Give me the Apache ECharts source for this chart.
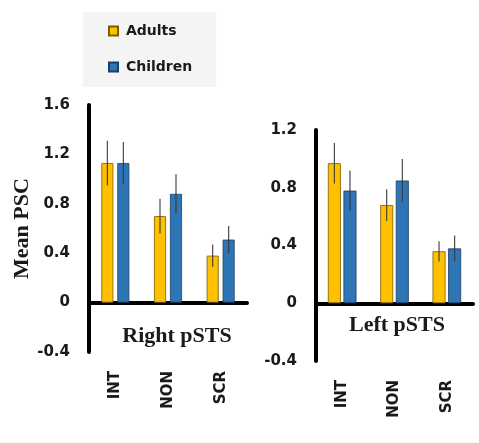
<!DOCTYPE html>
<html>
<head>
<meta charset="utf-8">
<script src="https://cdn.jsdelivr.net/npm/echarts@6/dist/echarts.min.js"></script>
<style>html,body{margin:0;padding:0;background:#fff}#c{width:479px;height:443px}</style>
</head>
<body>
<div id="c"></div>
<script>
// ---- data ----
const categories = ['INT', 'NON', 'SCR'];
const rightAdults = [1.13, 0.70, 0.38];
const rightAdultsErr = [0.18, 0.14, 0.09];
const rightChildren = [1.13, 0.88, 0.51];
const rightChildrenErr = [0.17, 0.16, 0.11];
const leftAdults = [0.97, 0.68, 0.36];
const leftAdultsErr = [0.14, 0.11, 0.07];
const leftChildren = [0.78, 0.85, 0.38];
const leftChildrenErr = [0.14, 0.15, 0.09];
const rightTicks = [-0.4, 0, 0.4, 0.8, 1.2, 1.6];
const leftTicks = [-0.4, 0, 0.4, 0.8, 1.2];

const chart = echarts.init(document.getElementById('c'));
const yellow = '#FFC000', blue = '#2E75B6';
const tickFont = {fontFamily: 'DejaVu Sans', fontWeight: 'bold', fontSize: 15, color: '#1a1a1a'};
const catFont = {fontFamily: 'DejaVu Sans', fontWeight: 'bold', fontSize: 15, color: '#1a1a1a'};

function errData(vals, errs) { return vals.map((v, i) => [i, v - errs[i], v + errs[i]]); }
function errRender(offset, width) {
  return function (params, api) {
    const x = api.value(0);
    const p1 = api.coord([x, api.value(2)]);
    const p2 = api.coord([x, api.value(1)]);
    return {type: 'line', shape: {x1: p1[0] + offset, y1: p1[1], x2: p2[0] + offset, y2: p2[1]},
      style: {stroke: '#3a3a3a', lineWidth: width}};
  };
}
function fmt(v) { return Math.abs(v) < 1e-9 ? '0' : v.toFixed(1); }

function yAx(gi, ticks) {
  return {type: 'value', gridIndex: gi, min: ticks[0], max: ticks[ticks.length - 1], interval: 0.4,
    axisLine: {show: true, lineStyle: {color: '#000', width: 4}}, axisTick: {show: false},
    splitLine: {show: false}, axisLabel: Object.assign({margin: 19, formatter: fmt}, tickFont)};
}
function xLabelAx(gi) {
  return {type: 'category', gridIndex: gi, data: categories, position: 'bottom',
    axisLine: {show: false, onZero: false}, axisTick: {show: false},
    axisLabel: Object.assign({rotate: 90, margin: 19}, catFont)};
}
function xZeroAx(gi) {
  return {type: 'category', gridIndex: gi, data: categories, position: 'bottom',
    axisLine: {show: true, onZero: true, lineStyle: {color: '#000', width: 4}},
    axisTick: {show: false}, axisLabel: {show: false}};
}

chart.setOption({
  backgroundColor: '#fff',
  animation: false,
  legend: {
    orient: 'vertical', left: 83, top: 12, icon: 'rect',
    padding: [12, 24, 13, 25], itemGap: 22, itemWidth: 9, itemHeight: 9,
    backgroundColor: '#f4f4f4',
    data: ['Adults', 'Children'],
    textStyle: {fontFamily: 'DejaVu Sans', fontWeight: 'bold', fontSize: 14, color: '#1a1a1a', padding: [0, 0, 0, 3]}
  },
  grid: [
    {left: 89, top: 105, width: 158, height: 247},
    {left: 316, top: 130, width: 157, height: 231}
  ],
  xAxis: [xLabelAx(0), xLabelAx(1), xZeroAx(0), xZeroAx(1)],
  yAxis: [
    Object.assign(yAx(0, rightTicks), {
      name: 'Mean PSC', nameLocation: 'middle', nameRotate: 90, nameGap: 56,
      nameTextStyle: {fontFamily: 'Liberation Serif', fontWeight: 'bold', fontSize: 22, color: '#1a1a1a'}
    }),
    yAx(1, leftTicks)
  ],
  graphic: [
    {type: 'text', x: 177, y: 336, style: {text: 'Right pSTS', fill: '#1a1a1a', font: 'bold 22px "Liberation Serif"', textAlign: 'center', textVerticalAlign: 'middle'}},
    {type: 'text', x: 397, y: 325, style: {text: 'Left pSTS', fill: '#1a1a1a', font: 'bold 22px "Liberation Serif"', textAlign: 'center', textVerticalAlign: 'middle'}}
  ],
  series: [
    {name: 'Adults', type: 'bar', xAxisIndex: 0, yAxisIndex: 0, data: rightAdults, barWidth: 12, barGap: '33%',
      itemStyle: {color: yellow, borderColor: '#7a5c00', borderWidth: 0.8}},
    {name: 'Children', type: 'bar', xAxisIndex: 0, yAxisIndex: 0, data: rightChildren, barWidth: 12, barGap: '33%',
      itemStyle: {color: blue, borderColor: '#1b3f63', borderWidth: 0.8}},
    {name: 'Adults', type: 'bar', xAxisIndex: 1, yAxisIndex: 1, data: leftAdults, barWidth: 13, barGap: '20%',
      itemStyle: {color: yellow, borderColor: '#7a5c00', borderWidth: 0.8}},
    {name: 'Children', type: 'bar', xAxisIndex: 1, yAxisIndex: 1, data: leftChildren, barWidth: 13, barGap: '20%',
      itemStyle: {color: blue, borderColor: '#1b3f63', borderWidth: 0.8}},
    {name: 'errRA', type: 'custom', xAxisIndex: 0, yAxisIndex: 0, data: errData(rightAdults, rightAdultsErr), renderItem: errRender(-8, 1.1), z: 5},
    {name: 'errRC', type: 'custom', xAxisIndex: 0, yAxisIndex: 0, data: errData(rightChildren, rightChildrenErr), renderItem: errRender(8, 1.1), z: 5},
    {name: 'errLA', type: 'custom', xAxisIndex: 1, yAxisIndex: 1, data: errData(leftAdults, leftAdultsErr), renderItem: errRender(-7.8, 1.1), z: 5},
    {name: 'errLC', type: 'custom', xAxisIndex: 1, yAxisIndex: 1, data: errData(leftChildren, leftChildrenErr), renderItem: errRender(7.8, 1.1), z: 5}
  ]
});
</script>
</body>
</html>
